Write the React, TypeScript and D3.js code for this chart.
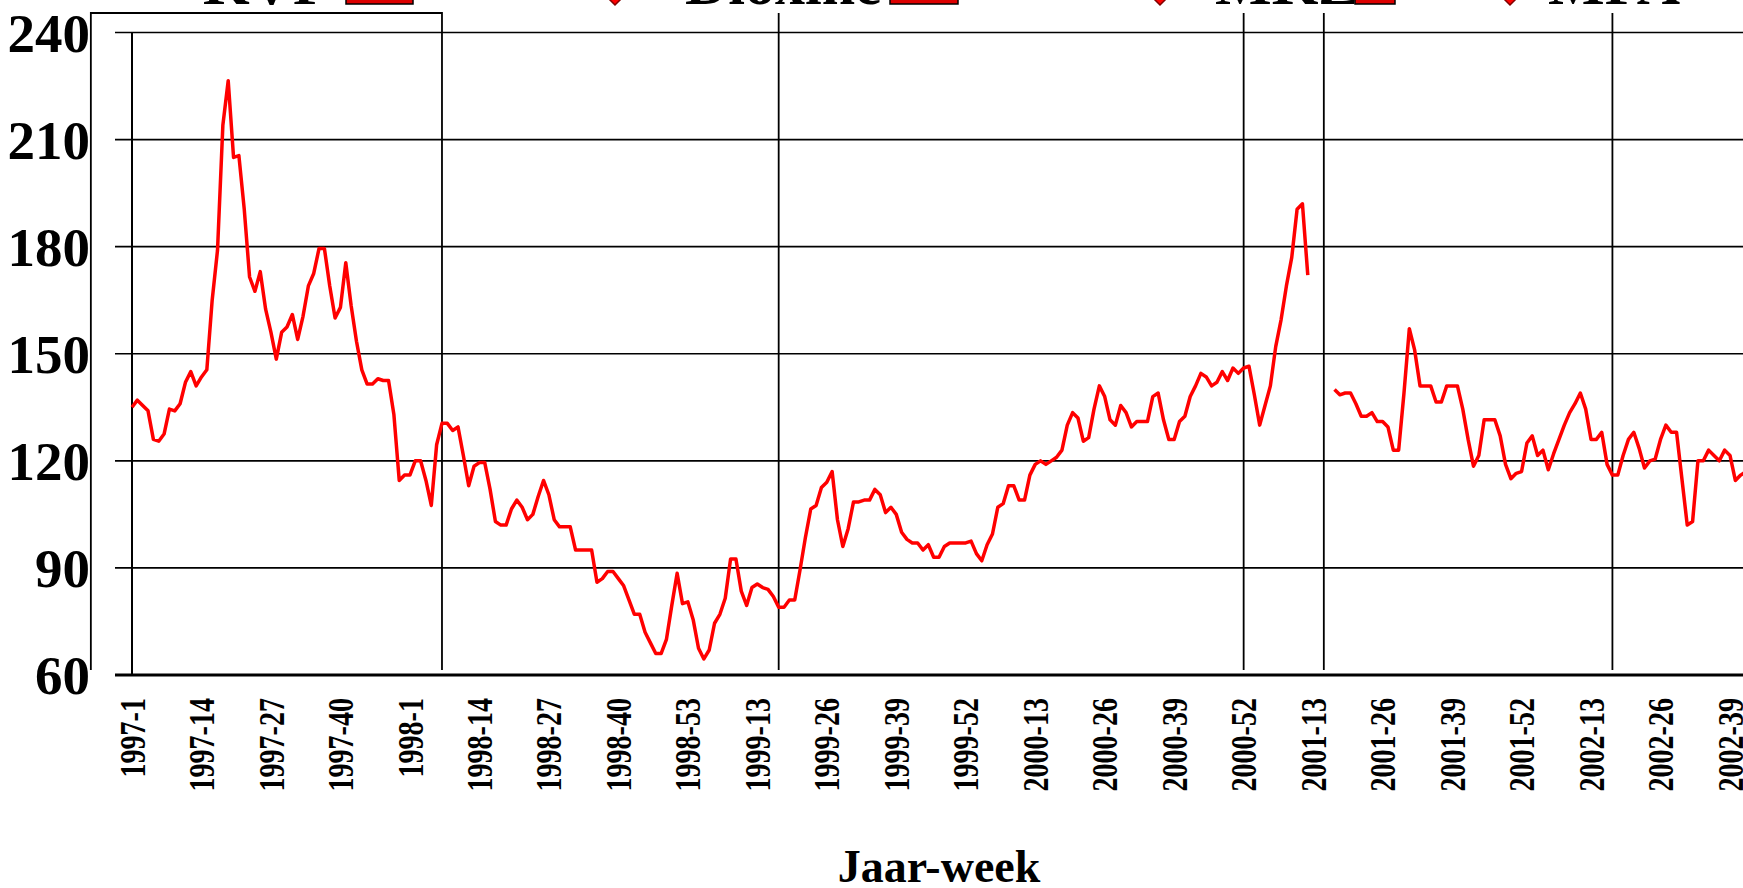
import React from "react";
import * as d3 from "d3";

const width = 1743;
const height = 888;

// jaar + aantal weken
const years = [
  [1997, 52],
  [1998, 53],
  [1999, 52],
  [2000, 52],
  [2001, 52],
  [2002, 52],
];

const tickLabels = [
  "1997-1", "1997-14", "1997-27", "1997-40", "1998-1", "1998-14", "1998-27", "1998-40",
  "1998-53", "1999-13", "1999-26", "1999-39", "1999-52", "2000-13", "2000-26", "2000-39",
  "2000-52", "2001-13", "2001-26", "2001-39", "2001-52", "2002-13", "2002-26", "2002-39",
];

const yTicks = [60, 90, 120, 150, 180, 210, 240];

// prijs per week, vanaf 1997-1
const prices: (number | null)[] = [
  135, 137, 135.5, 134, 126, 125.5, 127.5, 134.5, 134, 136,
  142, 145, 141, 143.5, 145.5, 165, 179, 214, 226.5, 205,
  205.5, 190.5, 171.5, 167.5, 173, 162.5, 156, 148.5, 156, 157.5,
  161, 154, 160.5, 169, 172.5, 179.5, 179.5, 169, 160, 163,
  175.5, 163.5, 153.5, 145.5, 141.5, 141.5, 143, 142.5, 142.5, 133,
  114.5, 116, 116, 120, 120, 114.5, 107.5, 124.5, 130.5, 130.5,
  128.5, 129.5, 121.5, 113, 118.5, 119.5, 119.5, 112, 103, 102,
  102, 106.5, 109, 107, 103.5, 105, 110, 114.5, 110.5, 103.5,
  101.5, 101.5, 101.5, 95, 95, 95, 95, 86, 87, 89,
  89, 87, 85, 81, 77, 77, 72, 69, 66, 66,
  70, 79.5, 88.5, 80, 80.5, 75.5, 67.5, 64.5, 67, 74.5,
  77, 81.5, 92.5, 92.5, 83.5, 79.5, 84.5, 85.5, 84.5, 84,
  82, 79, 79, 81, 81, 89.5, 98.5, 106.5, 107.5, 112.5,
  114, 117, 103.5, 96, 101, 108.5, 108.5, 109, 109, 112,
  110.5, 105.5, 107, 105, 100, 98, 97, 97, 95, 96.5,
  93, 93, 96, 97, 97, 97, 97, 97.5, 94, 92,
  96.5, 99.5, 107, 108, 113, 113, 109, 109, 116, 119,
  120, 119, 120, 121, 123, 130, 133.5, 132, 125.5, 126.5,
  134.5, 141, 138, 131.5, 130, 135.5, 133.5, 129.5, 131, 131,
  131, 138, 139, 131.5, 126, 126, 131, 132.5, 138, 141,
  144.5, 143.5, 141, 142, 145, 142.5, 146, 144.5, 146, 146.5,
  138.5, 130, 135.5, 141, 152, 159.5, 169, 177, 190.5, 192,
  172, null, null, null, null, 140, 138.5, 139, 139, 136,
  132.5, 132.5, 133.5, 131, 131, 129.5, 123, 123, 139, 157,
  151, 141, 141, 141, 136.5, 136.5, 141, 141, 141, 134.5,
  126, 118.5, 121.5, 131.5, 131.5, 131.5, 127, 119, 115, 116.5,
  117, 125, 127, 121.5, 123, 117.5, 122, 126, 130, 133.5,
  136, 139, 134.5, 126, 126, 128, 119, 116, 116, 121.5,
  126, 128, 123.5, 118, 120, 120.5, 126, 130, 128, 128,
  115, 102, 103, 120, 120, 123, 121.5, 120, 123, 121.5,
  114.5, 116, 117,
];

// gebeurtenissen (weeknummer vanaf 1997-1)
const eventLines = [121, 208, 223, 277];
const kvpBox = [-7.7, 58];

const legendItems = [
  { label: "KVP", textX: 203, boxX: 346, boxW: 67, diamond: null },
  { label: "Dioxine", textX: 685, boxX: 890, boxW: 68, diamond: 615 },
  { label: "MKZ", textX: 1215, boxX: 1355, boxW: 40, diamond: 1160 },
  { label: "MPA", textX: 1548, boxX: null, boxW: 0, diamond: 1510 },
];

const weekKeys: string[] = [];
years.forEach(([y, n]) => {
  for (let w = 1; w <= n; w++) weekKeys.push(`${y}-${w}`);
});

const App = () => {
  const x = d3.scaleLinear().domain([0, 299]).range([132, 1730]);
  const y = d3.scaleLinear().domain([60, 240]).range([675, 32.5]);

  const line = d3
    .line<number | null>()
    .defined((d) => d != null)
    .x((d, i) => x(i))
    .y((d) => y(d as number));

  const font = "'Liberation Serif', 'Times New Roman', serif";
  const top = 13;
  const bottom = 670;

  return (
    <svg
      width={width}
      height={height}
      style={{ position: "absolute", left: 0, top: 0, background: "white" }}
    >
      {/* legenda, grotendeels buiten beeld */}
      {legendItems.map((d) => (
        <g key={d.label}>
          {d.diamond != null && (
            <path
              d={`M${d.diamond},5 l-16,-16 l16,-16 l16,16 z`}
              fill="#ff0000"
              stroke="#800000"
              strokeWidth={1.5}
            />
          )}
          <text x={d.textX} y={4} fontFamily={font} fontWeight="bold" fontSize={60}>
            {d.label}
          </text>
          {d.boxX != null && (
            <rect x={d.boxX} y={-30} width={d.boxW} height={34} fill="#dd0000" stroke="#000" strokeWidth={1.5} />
          )}
        </g>
      ))}

      {/* rasterlijnen */}
      {yTicks.map((t) => (
        <line key={t} x1={115} x2={width} y1={y(t)} y2={y(t)} stroke="#000" strokeWidth={t === 60 ? 3 : 1.6} />
      ))}
      {yTicks.map((t) => (
        <text
          key={"l" + t}
          x={90}
          y={y(t)}
          dy="0.35em"
          textAnchor="end"
          fontFamily={font}
          fontWeight="bold"
          fontSize={55}
        >
          {t}
        </text>
      ))}
      <line x1={x(0)} x2={x(0)} y1={y(240)} y2={y(60)} stroke="#000" strokeWidth={2} />

      {/* KVP kader en overige gebeurtenissen */}
      <path
        d={`M${x(kvpBox[0])},${bottom} V${top} H${x(kvpBox[1])} V${bottom}`}
        fill="none"
        stroke="#000"
        strokeWidth={1.8}
      />
      {eventLines.map((e) => (
        <line key={e} x1={x(e)} x2={x(e)} y1={top} y2={bottom} stroke="#000" strokeWidth={1.8} />
      ))}

      <path d={line(prices) ?? ""} fill="none" stroke="#ff0000" strokeWidth={3.5} strokeLinejoin="round" />

      {tickLabels.map((lab, i) => {
        const xi = x(i * 13);
        return (
          <text
            key={lab}
            transform={`translate(${xi},698) rotate(-90) scale(0.78,1)`}
            dy="0.35em"
            textAnchor="end"
            fontFamily={font}
            fontWeight="bold"
            fontSize={36}
          >
            {lab}
          </text>
        );
      })}

      <text x={939} y={882} textAnchor="middle" fontFamily={font} fontWeight="bold" fontSize={46}>
        Jaar-week
      </text>
    </svg>
  );
};

export default App;
